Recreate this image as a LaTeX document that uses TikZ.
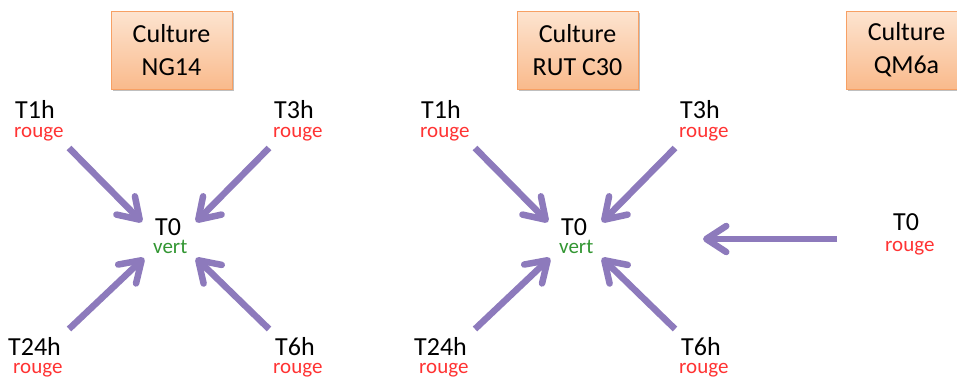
\documentclass[tikz,border=0pt]{standalone}
\usepackage{fontspec}
\setmainfont{Carlito}
\usetikzlibrary{arrows.meta,shadows}
\definecolor{arrowpurple}{RGB}{141,122,188}
\definecolor{rougec}{RGB}{255,51,51}
\definecolor{vertc}{RGB}{50,150,50}
\definecolor{boxtop}{RGB}{253,228,208}
\definecolor{boxbot}{RGB}{249,186,140}
\definecolor{boxborder}{RGB}{247,160,100}
% two-line label: #1 main text, #2 coloured text, #3 x-offset of line 2, #4 colour, #5 baseline skip
\newcommand{\mylab}[5]{\vtop{\baselineskip=#5pt\lineskip=0pt\lineskiplimit=-100pt
  \hbox{\fontsize{26}{26}\selectfont #1}%
  \hbox{\kern#3pt\color{#4}\fontsize{21}{21}\selectfont #2}}}
\tikzset{
  cbox/.style={draw=boxborder, line width=0.8pt, top color=boxtop, bottom color=boxbot,
    minimum width=121pt, minimum height=78pt, inner sep=0pt, align=center,
    font=\fontsize{26}{33}\selectfont,
    drop shadow={shadow xshift=1.5pt, shadow yshift=-2pt, opacity=0.25, fill=black}},
  lab/.style={inner sep=0pt, anchor=base west},
  parrow/.style={draw=arrowpurple, line width=6.5pt,
    -{Straight Barb[length=20pt,width=26pt,round]}},
}
\begin{document}
\begin{tikzpicture}[x=1pt,y=-1pt]
\useasboundingbox (0,0) rectangle (957,378);
\clip (0,0) rectangle (957,378);
\fill[white] (0,0) rectangle (957,378);

% ---------- group 1 : NG14 ----------
\node[cbox] (box1) at (171.5,50) {Culture\\NG14};
\node[lab] (g1t1) at (15,118) {\mylab{T1h}{rouge}{-1}{rougec}{19}};
\node[lab] (g1t3) at (274,118) {\mylab{T3h}{rouge}{-1}{rougec}{19}};
\node[lab] (g1t0) at (155,235) {\mylab{T0}{vert}{-2}{vertc}{18}};
\node[lab] (g1t24) at (8,355) {\mylab{T24h}{rouge}{5}{rougec}{18}};
\node[lab] (g1t6) at (275,355) {\mylab{T6h}{rouge}{-2}{rougec}{18}};
\coordinate (g1a1s) at (69,148);  \coordinate (g1a1e) at (142,222);
\coordinate (g1a2s) at (269,148); \coordinate (g1a2e) at (196,222);
\coordinate (g1a3s) at (69,329);  \coordinate (g1a3e) at (144,258);
\coordinate (g1a4s) at (269,329); \coordinate (g1a4e) at (196,258);
\draw[parrow] (g1a1s) -- (g1a1e);
\draw[parrow] (g1a2s) -- (g1a2e);
\draw[parrow] (g1a3s) -- (g1a3e);
\draw[parrow] (g1a4s) -- (g1a4e);

% ---------- group 2 : RUT C30 ----------
\node[cbox] (box2) at (577.5,50) {Culture\\RUT C30};
\node[lab] (g2t1) at (421,118) {\mylab{T1h}{rouge}{-1}{rougec}{19}};
\node[lab] (g2t3) at (680,118) {\mylab{T3h}{rouge}{-1}{rougec}{19}};
\node[lab] (g2t0) at (561,235) {\mylab{T0}{vert}{-2}{vertc}{18}};
\node[lab] (g2t24) at (414,355) {\mylab{T24h}{rouge}{5}{rougec}{18}};
\node[lab] (g2t6) at (681,355) {\mylab{T6h}{rouge}{-2}{rougec}{18}};
\coordinate (g2a1s) at (475,148); \coordinate (g2a1e) at (548,222);
\coordinate (g2a2s) at (675,148); \coordinate (g2a2e) at (602,222);
\coordinate (g2a3s) at (475,329); \coordinate (g2a3e) at (550,258);
\coordinate (g2a4s) at (675,329); \coordinate (g2a4e) at (602,258);
\draw[parrow] (g2a1s) -- (g2a1e);
\draw[parrow] (g2a2s) -- (g2a2e);
\draw[parrow] (g2a3s) -- (g2a3e);
\draw[parrow] (g2a4s) -- (g2a4e);

% ---------- group 3 : QM6a ----------
\node[cbox] (box3) at (906.5,50) {Culture\\QM6a};
\node[lab] (g3t0) at (893,230) {\mylab{T0}{rouge}{-8}{rougec}{21}};
\coordinate (g3as) at (837,239); \coordinate (g3ae) at (703,239);
\draw[parrow] (g3as) -- (g3ae);
\end{tikzpicture}
\end{document}
